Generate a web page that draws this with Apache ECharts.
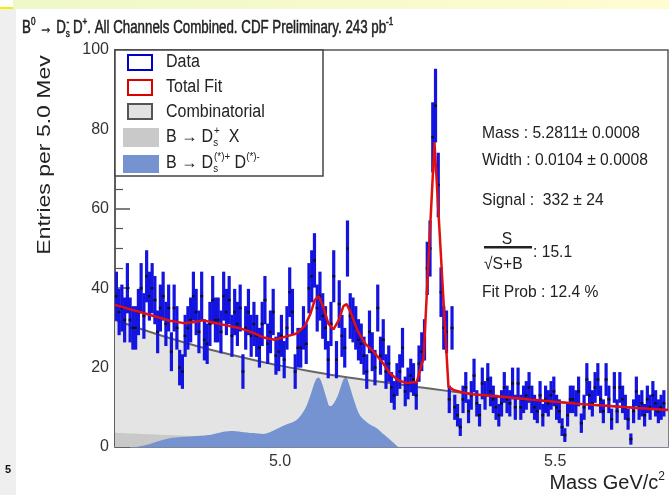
<!DOCTYPE html>
<html>
<head>
<meta charset="utf-8">
<script src="https://cdn.jsdelivr.net/npm/echarts@6/dist/echarts.min.js"></script>
<style>html,body{margin:0;padding:0;background:#fff}#c{width:669px;height:495px}</style>
</head>
<body>
<div id="c"></div>
<script>
// ---- data ----
const binStart = 4.70, binWidth = 0.005;
const counts = [
 38,34,35,32,40,32,30,30,34,40, 33,43,38,40,37,29,35,38,31,35,
 24,35,30,20,19,28,30,32,38,34, 29,38,27,26,31,37,32,32,29,38,
 34,37,28,34,31,35,19,30,34,28,
 31,28,25,31,37,26,29,34,23,24, 28,22,30,39,34,19,25,25,30,26,
 40,43,47,35,38,33,30,22,31,43, 22,36,28,25,50,33,32,30,27,26,
 23,19,29,24,20,35,23,27,19,21,
 15,13,17,19,25,14,16,18,17,13, 21,24,27,45,50,78,86,66,39,30,
 29,12,30,10,8,5,12,15,9,13, 18,11,8,16,13,17,14,12,10,8,
 11,15,12,11,16,10,16,10,12,13,
 15,12,10,9,13,8,12,11,13,14, 10,9,5,3,8,12,12,11,14,6,
 10,17,13,11,15,17,12,9,17,12, 7,15,9,15,12,10,7,2,9,14,
 10,11,8,12,10,13,11,9,10,11
];
const combMass = [4.70,4.75,4.80,4.85,4.90,4.95,5.00,5.05,5.10,5.15,5.20,5.25,5.30,5.35,5.40,5.45,5.50,5.55,5.60,5.65,5.705];
const combVal  = [32.0,29.6,27.4,25.4,23.6,22.0,20.5,19.2,18.0,17.0,16.1,15.1,14.2,13.3,12.6,12.0,11.4,10.8,10.3,9.8,9.3];
const dsxMass = [4.70,4.75,4.80,4.85,4.90,4.95,5.00];
const dsxVal  = [3.6,3.3,3.0,2.6,1.6,0.6,0];
const dsdMass = [4.74,4.76,4.78,4.80,4.82,4.84,4.87,4.89,4.91,4.93,4.95,4.97,4.99,5.01,5.03,5.045,5.055,5.065,5.07,5.075,5.085,5.09,5.095,5.105,5.115,5.12,5.125,5.135,5.145,5.16,5.175,5.19,5.205,5.215];
const dsdVal  = [0,0.6,1.5,2.2,2.5,2.7,3.0,3.6,4.0,3.8,3.5,3.3,4.3,5.6,6.8,9.5,13,17,17.5,16.5,12,10.3,10.5,13,17,17.5,16,11.5,8,6,4.8,3,1.2,0];
const fitMass = [4.700,4.725,4.750,4.775,4.800,4.825,4.845,4.860,4.880,4.900,4.925,4.950,4.970,4.990,5.010,5.030,5.045,5.055,5.063,5.070,5.078,5.088,5.097,5.107,5.115,5.121,5.128,5.140,5.155,5.170,5.185,5.200,5.215,5.230,5.2485,5.2576,5.2606,5.2806,5.300,5.306,5.315,5.330,5.350,5.400,5.450,5.500,5.550,5.600,5.650,5.705];
const fitVal  = [35.8,34.8,33.8,32.8,31.8,31.2,31.5,31.9,31.3,30.7,30.0,28.8,27.6,27.0,27.8,28.6,30.5,33.5,37.0,38.0,35.5,31.0,29.6,32.0,35.5,36.0,34.0,29.5,26.0,24.0,21.5,18.5,16.8,16.1,16.4,21.0,22.0,76.8,29.5,15.2,14.4,13.8,13.3,12.7,12.0,11.4,10.8,10.3,9.8,9.3];
const xLabels = ['5.0','5.5'];

// ---- build ----
const FONT = '"Liberation Sans", Arial, Helvetica, sans-serif';
const zip = (a,b) => a.map((v,i)=>[v,b[i]]);
const dataPts = counts.map((n,i)=>[binStart + binWidth*(i+0.5), n]);

const chart = echarts.init(document.getElementById('c'), null, {renderer:'canvas'});

function T(x, y, text, size, extra) {
  return Object.assign({type:'text', x:x, y:y, z:100, style:Object.assign({
    text:text, fontFamily:FONT, fontSize:size, fill:'#222', verticalAlign:'middle', align:'left'
  }, extra && extra.style || {})}, extra && extra.el || {});
}
function richSet(size, stroke) {
  const base = {fontFamily:FONT, fill:'#222'};
  if (stroke) { base.stroke = '#222'; base.lineWidth = stroke; }
  return {
    m:Object.assign({fontSize:size, lineHeight:size+5}, base),
    p:Object.assign({fontSize:Math.round(size*0.6), verticalAlign:'top', lineHeight:Math.round(size*0.6)}, base),
    s:Object.assign({fontSize:Math.round(size*0.6), verticalAlign:'bottom', lineHeight:Math.round(size*0.6), width:1}, base)
  };
}

const graphics = [
  // slide background bits
  {type:'rect', z:-10, shape:{x:0,y:0,width:669,height:9}, style:{fill:new echarts.graphic.LinearGradient(0,0,1,0,[{offset:0,color:'#eef8c8'},{offset:1,color:'#fffcd2'}])}},
  {type:'rect', z:-10, shape:{x:0,y:9,width:16,height:486}, style:{fill:'#efefef'}},
  {type:'rect', z:-9, shape:{x:0,y:0,width:13,height:8}, style:{fill:'#ffffff'}},
  {type:'rect', z:-9, shape:{x:0,y:7,width:13,height:2}, style:{fill:'#f2f200'}},
  T(8, 470, '5', 11, {style:{fontWeight:'bold', fill:'#111', align:'center'}}),
  // title
  {type:'text', x:22, y:28, z:100, scaleX:0.74, style:{
    text:'{m|B}{p|0}{m| → D}{s|s}{p|-}{m| D}{p|+}{m|. All Channels Combined. CDF Preliminary. 243 pb}{p|-1}',
    verticalAlign:'middle', rich:richSet(18, 0.5)}},
  // axis names
  {type:'text', x:45, y:155, z:100, rotation:Math.PI/2, scaleY:0.8, style:{
    text:'Entries per 5.0 Mev', fontFamily:FONT, fontSize:23, fill:'#222', align:'center', verticalAlign:'middle'}},
  {type:'text', x:665, y:483, z:100, style:{
    text:'{m|Mass GeV/c}{p|2}', align:'right', verticalAlign:'middle', rich:richSet(20)}},
  // legend
  {type:'rect', z:90, shape:{x:115,y:50,width:208,height:126}, style:{fill:'#fff', stroke:'#444', lineWidth:1.5}},
  {type:'rect', z:95, shape:{x:128,y:55,width:24,height:15}, style:{fill:'#fff', stroke:'#0000cc', lineWidth:2}},
  {type:'rect', z:95, shape:{x:128,y:80,width:24,height:15}, style:{fill:'#fff', stroke:'#dd0000', lineWidth:2}},
  {type:'rect', z:95, shape:{x:128,y:104,width:24,height:15}, style:{fill:'#e2e2e2', stroke:'#555', lineWidth:2}},
  {type:'rect', z:95, shape:{x:123,y:128,width:36,height:19}, style:{fill:'#c9c9c9'}},
  {type:'rect', z:95, shape:{x:123,y:155,width:36,height:18}, style:{fill:'#7593d0'}},
  {type:'text', x:166, y:62, z:100, scaleX:0.89, style:{text:'Data', fontFamily:FONT, fontSize:18, fill:'#222', verticalAlign:'middle'}},
  {type:'text', x:166, y:87, z:100, scaleX:0.89, style:{text:'Total Fit', fontFamily:FONT, fontSize:18, fill:'#222', verticalAlign:'middle'}},
  {type:'text', x:166, y:112, z:100, scaleX:0.89, style:{text:'Combinatorial', fontFamily:FONT, fontSize:18, fill:'#222', verticalAlign:'middle'}},
  {type:'text', x:166, y:137, z:100, scaleX:0.89, style:{text:'{m|B → D}{s|s}{p|+}{m|  X}', verticalAlign:'middle', rich:richSet(18)}},
  {type:'text', x:166, y:163, z:100, scaleX:0.89, style:{text:'{m|B → D}{s|s}{p|(*)+}{m| D}{p|(*)-}', verticalAlign:'middle', rich:richSet(18)}},
  // fit results
  {type:'text', x:482, y:133, z:100, scaleX:0.92, style:{text:'Mass : 5.2811± 0.0008', fontFamily:FONT, fontSize:17, fill:'#222', verticalAlign:'middle'}},
  {type:'text', x:482, y:160, z:100, scaleX:0.92, style:{text:'Width : 0.0104 ± 0.0008', fontFamily:FONT, fontSize:17, fill:'#222', verticalAlign:'middle'}},
  {type:'text', x:482, y:200, z:100, scaleX:0.92, style:{text:'Signal :  332 ± 24', fontFamily:FONT, fontSize:17, fill:'#222', verticalAlign:'middle'}},
  {type:'text', x:507, y:239, z:100, scaleX:0.92, style:{text:'S', fontFamily:FONT, fontSize:17, fill:'#222', align:'center', verticalAlign:'middle'}},
  {type:'rect', z:100, shape:{x:484,y:246,width:48,height:2.5}, style:{fill:'#222'}},
  {type:'text', x:484, y:264, z:100, scaleX:0.92, style:{text:'√S+B', fontFamily:FONT, fontSize:17, fill:'#222', verticalAlign:'middle'}},
  {type:'text', x:533, y:252, z:100, scaleX:0.92, style:{text:': 15.1', fontFamily:FONT, fontSize:17, fill:'#222', verticalAlign:'middle'}},
  {type:'text', x:482, y:292, z:100, scaleX:0.92, style:{text:'Fit Prob : 12.4 %', fontFamily:FONT, fontSize:17, fill:'#222', verticalAlign:'middle'}}
];

const option = {
  animation:false,
  backgroundColor:'#ffffff',
  grid:{left:115, top:50, right:1, bottom:48, show:true, borderColor:'#555', borderWidth:1.5, backgroundColor:'transparent'},
  xAxis:{
    type:'value', min:4.70, max:5.705, interval:0.05,
    axisLine:{show:true, lineStyle:{color:'#7d8ba0', width:1.5}},
    axisTick:{show:false}, splitLine:{show:false},
    axisLabel:{fontFamily:FONT, fontSize:16, color:'#333', margin:7, showMinLabel:true, showMaxLabel:false,
      formatter:function(v){ if(Math.abs(v-5.0)<1e-6) return xLabels[0]; if(Math.abs(v-5.5)<1e-6) return xLabels[1]; return ''; }}
  },
  yAxis:{
    type:'value', min:0, max:100, interval:20,
    axisLine:{show:true, lineStyle:{color:'#555', width:1.5}},
    axisTick:{show:true, inside:true, length:15, lineStyle:{color:'#555', width:1.5}},
    minorTick:{show:true, splitNumber:4, length:8, lineStyle:{color:'#555', width:1.2}},
    splitLine:{show:false},
    axisLabel:{fontFamily:FONT, fontSize:16, color:'#333', margin:6}
  },
  series:[
    {name:'Combinatorial area', type:'line', data:zip(combMass, combVal), smooth:0.3, symbol:'none', z:1,
     lineStyle:{width:0}, areaStyle:{color:'#e4e4e4', opacity:1}, silent:true},
    {name:'B->Ds X', type:'line', data:zip(dsxMass, dsxVal), smooth:0.3, symbol:'none', z:2,
     lineStyle:{width:0}, areaStyle:{color:'#c9c9c9', opacity:1}, silent:true},
    {name:'B->Ds D', type:'line', data:zip(dsdMass, dsdVal), smooth:0.3, symbol:'none', z:3,
     lineStyle:{width:0}, areaStyle:{color:'#7593d0', opacity:1}, silent:true},
    {name:'Combinatorial', type:'line', data:zip(combMass, combVal), smooth:0.3, symbol:'none', z:4,
     lineStyle:{color:'#666', width:2}, silent:true},
    {name:'Data', type:'custom', z:5, clip:true, data:dataPts,
     renderItem:function(params, api){
       const x = api.value(0), n = api.value(1), e = Math.sqrt(n);
       const top = api.coord([x, n+e]), bot = api.coord([x, n-e]), c = api.coord([x, n]);
       return {type:'group', children:[
         {type:'rect', shape:{x:c[0]-1.6, y:top[1], width:3.2, height:bot[1]-top[1]}, style:{fill:'#1414e0'}},
         {type:'rect', shape:{x:c[0]-1.5, y:c[1]-1.2, width:3, height:2.4}, style:{fill:'#111'}}
       ]};
     }},
    {name:'Total Fit', type:'line', data:zip(fitMass, fitVal), smooth:false, symbol:'none', z:6,
     lineStyle:{color:'#e01010', width:2.5}, silent:true}
  ],
  graphic:graphics
};
chart.setOption(option);
</script>
</body>
</html>
